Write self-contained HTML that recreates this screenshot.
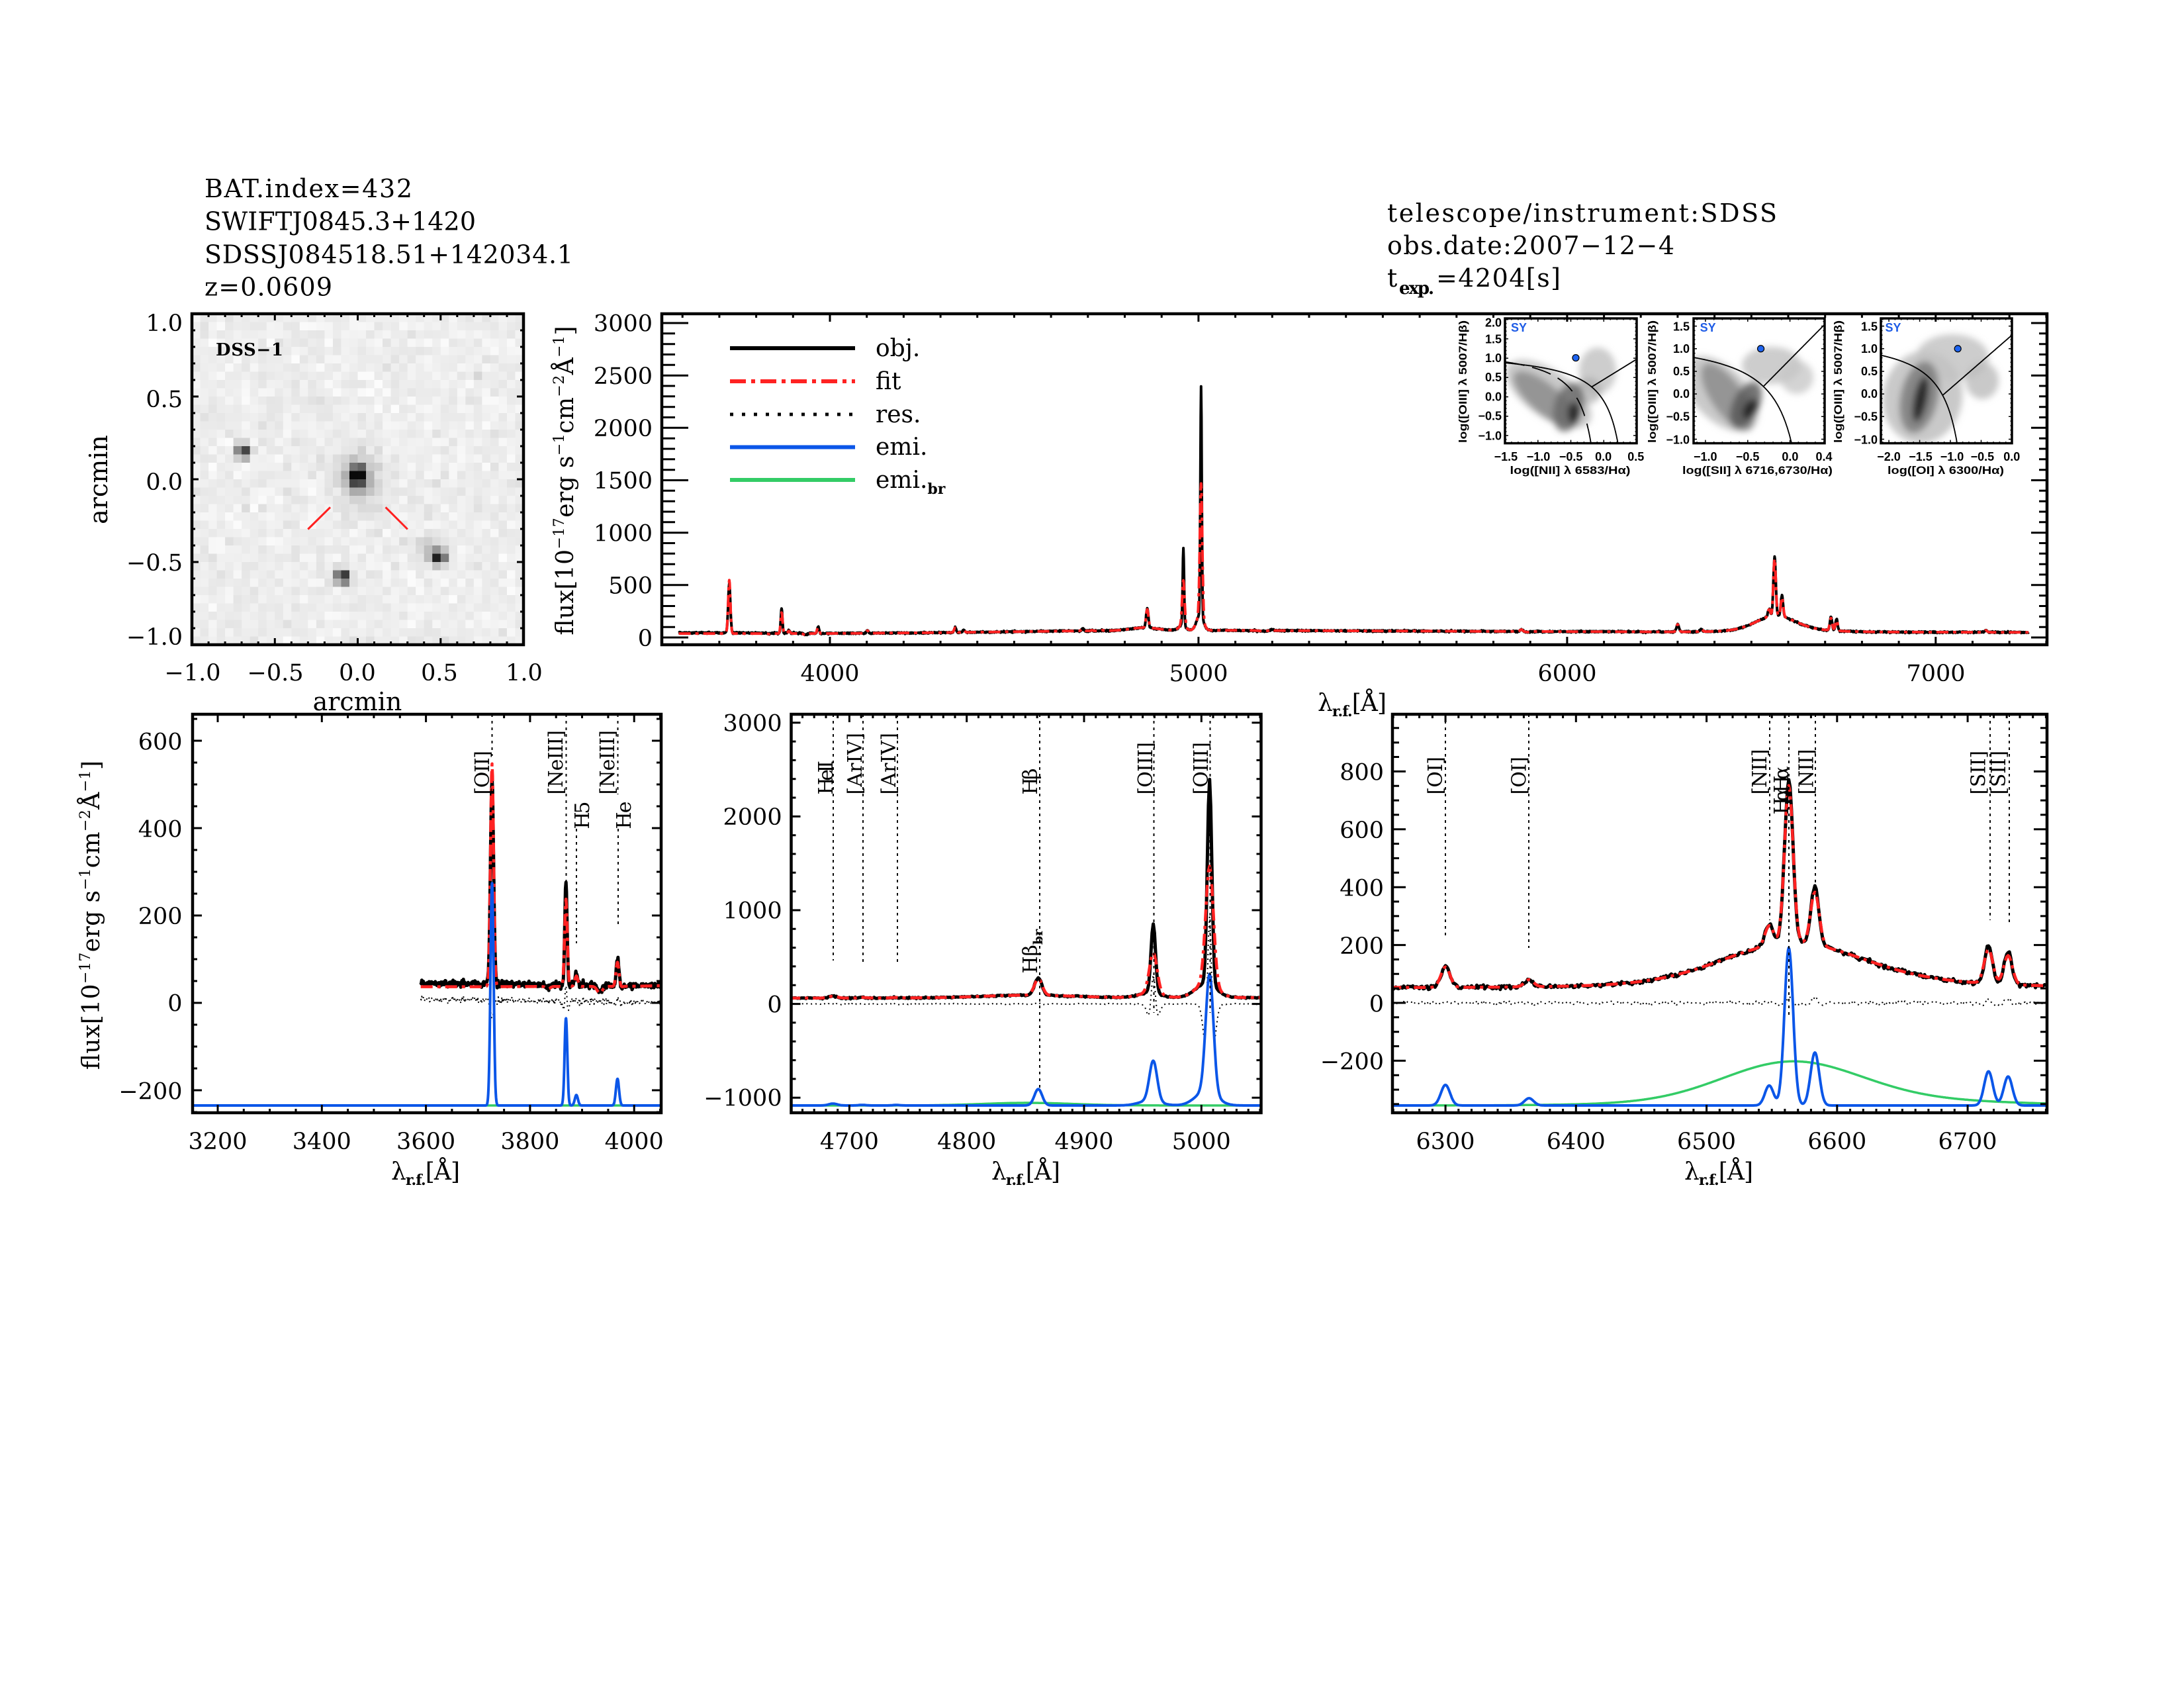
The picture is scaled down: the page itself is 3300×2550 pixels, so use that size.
<!DOCTYPE html>
<html><head><meta charset="utf-8"><title>BAT 432 spectrum</title>
<style>
html,body{margin:0;padding:0;background:#fff;width:3300px;height:2550px;overflow:hidden}
svg{display:block}
.t{font-family:"DejaVu Serif","Liberation Serif",serif;fill:#000}
.b{font-family:"Liberation Sans","DejaVu Sans",sans-serif;font-weight:bold;fill:#000}
</style></head><body>
<svg id="s" xmlns="http://www.w3.org/2000/svg" width="3300" height="2550" viewBox="0 0 3300 2550">
<defs>
<clipPath id="cM"><rect x="1000" y="474" width="2093" height="500"/></clipPath>
<clipPath id="cL"><rect x="291" y="1079" width="708" height="602"/></clipPath>
<clipPath id="cC"><rect x="1195.5" y="1079" width="710" height="602"/></clipPath>
<clipPath id="cR"><rect x="2104" y="1079" width="989" height="602"/></clipPath>
<clipPath id="cD"><rect x="290" y="474" width="501" height="500"/></clipPath>
<clipPath id="cI1"><rect x="2274" y="481" width="199" height="188.6"/></clipPath>
<clipPath id="cI2"><rect x="2559" y="481" width="198" height="188.6"/></clipPath>
<clipPath id="cI3"><rect x="2842" y="481" width="198" height="188.6"/></clipPath>
<filter id="bl" x="-50%" y="-50%" width="200%" height="200%"><feGaussianBlur stdDeviation="5"/></filter>
</defs>
<rect width="3300" height="2550" fill="#fff"/>
<g id="gD" clip-path="url(#cD)"></g>
<g id="gB"></g>
<g id="gS"></g>
<g id="gA"></g>

<!-- header left -->
<g class="t" font-size="38">
<text x="309" y="298" textLength="314">BAT.index=432</text>
<text x="309" y="347.5" textLength="410">SWIFTJ0845.3+1420</text>
<text x="309" y="397.5" textLength="557">SDSSJ084518.51+142034.1</text>
<text x="309" y="446.5" textLength="193">z=0.0609</text>
<!-- header right -->
<text x="2096" y="335" textLength="589">telescope/instrument:SDSS</text>
<text x="2096" y="384" textLength="434">obs.date:2007−12−4</text>
<text x="2096" y="433">t</text>
<text x="2114" y="444" font-size="26" font-weight="bold" textLength="53">exp.</text>
<text x="2170" y="433" textLength="188">=4204[s]</text>
</g>

<!-- DSS panel text -->
<text class="t" x="326" y="537" font-size="26" font-weight="bold" textLength="102">DSS−1</text>
<g class="t" font-size="35" text-anchor="end">
<text x="276" y="500">1.0</text>
<text x="276" y="615">0.5</text>
<text x="276" y="740">0.0</text>
<text x="276" y="862">−0.5</text>
<text x="276" y="974">−1.0</text>
</g>
<g class="t" font-size="35" text-anchor="middle">
<text x="291" y="1028">−1.0</text>
<text x="416" y="1028">−0.5</text>
<text x="540" y="1028">0.0</text>
<text x="664" y="1028">0.5</text>
<text x="792" y="1028">1.0</text>
<text x="540" y="1073" font-size="38">arcmin</text>
<text transform="translate(162,724.5) rotate(-90)" font-size="38">arcmin</text>
</g>

<!-- main panel text -->
<g class="t" font-size="35" text-anchor="end">
<text x="986" y="976">0</text>
<text x="986" y="896.5">500</text>
<text x="986" y="817.4">1000</text>
<text x="986" y="738.2">1500</text>
<text x="986" y="659">2000</text>
<text x="986" y="580">2500</text>
<text x="986" y="500.7">3000</text>
</g>
<g class="t" font-size="35" text-anchor="middle">
<text x="1254" y="1029">4000</text>
<text x="1811" y="1029">5000</text>
<text x="2368" y="1029">6000</text>
<text x="2925" y="1029">7000</text>
</g>
<text class="t" x="1991" y="1074" font-size="36" textLength="104">λ<tspan font-size="22" font-weight="bold" dy="8">r.f.</tspan><tspan dy="-8">[Å]</tspan></text>
<text class="t" transform="translate(866,959.5) rotate(-90)" font-size="36" textLength="467">flux[10<tspan font-size="22" dy="-14">−17</tspan><tspan dy="14">erg s</tspan><tspan font-size="22" dy="-14">−1</tspan><tspan dy="14">cm</tspan><tspan font-size="22" dy="-14">−2</tspan><tspan dy="14">Å</tspan><tspan font-size="22" dy="-14">−1</tspan><tspan dy="14">]</tspan></text>

<!-- legend -->
<line x1="1103" y1="526" x2="1292" y2="526" stroke="#000" stroke-width="6"/>
<line x1="1103" y1="576" x2="1292" y2="576" stroke="#ff2222" stroke-width="6" stroke-dasharray="24 8 6 8"/>
<line x1="1103" y1="626" x2="1292" y2="626" stroke="#000" stroke-width="5" stroke-dasharray="5 13"/>
<line x1="1103" y1="675.5" x2="1292" y2="675.5" stroke="#0b56e8" stroke-width="6"/>
<line x1="1103" y1="725" x2="1292" y2="725" stroke="#33cc66" stroke-width="6"/>
<g class="t" font-size="36">
<text x="1323" y="538">obj.</text>
<text x="1323" y="588">fit</text>
<text x="1323" y="638">res.</text>
<text x="1323" y="687">emi.</text>
<text x="1323" y="737">emi.<tspan font-size="22" font-weight="bold" dy="9">br</tspan></text>
</g>

<!-- bottom panels text -->
<g class="t" font-size="35" text-anchor="middle">
<text x="329" y="1736">3200</text>
<text x="486.3" y="1736">3400</text>
<text x="643.6" y="1736">3600</text>
<text x="800.9" y="1736">3800</text>
<text x="958.2" y="1736">4000</text>
<text x="1283.4" y="1736">4700</text>
<text x="1460.7" y="1736">4800</text>
<text x="1638" y="1736">4900</text>
<text x="1815.3" y="1736">5000</text>
<text x="2184" y="1736">6300</text>
<text x="2381.3" y="1736">6400</text>
<text x="2578.5" y="1736">6500</text>
<text x="2775.8" y="1736">6600</text>
<text x="2973" y="1736">6700</text>
</g>
<g class="t" font-size="35" text-anchor="end">
<text x="275.5" y="1132.7">600</text>
<text x="275.5" y="1264.5">400</text>
<text x="275.5" y="1396">200</text>
<text x="275.5" y="1527.7">0</text>
<text x="275.5" y="1660.7">−200</text>
<text x="1181.6" y="1104.5">3000</text>
<text x="1181.6" y="1246">2000</text>
<text x="1181.6" y="1387.6">1000</text>
<text x="1181.6" y="1529.3">0</text>
<text x="1181.6" y="1670.7">−1000</text>
<text x="2091" y="1178.7">800</text>
<text x="2091" y="1266">600</text>
<text x="2091" y="1353.5">400</text>
<text x="2091" y="1440.9">200</text>
<text x="2091" y="1528.3">0</text>
<text x="2091" y="1615.7">−200</text>
</g>
<text class="t" x="591" y="1782" font-size="36" textLength="104">λ<tspan font-size="22" font-weight="bold" dy="8">r.f.</tspan><tspan dy="-8">[Å]</tspan></text>
<text class="t" x="1498" y="1782" font-size="36" textLength="104">λ<tspan font-size="22" font-weight="bold" dy="8">r.f.</tspan><tspan dy="-8">[Å]</tspan></text>
<text class="t" x="2545" y="1782" font-size="36" textLength="104">λ<tspan font-size="22" font-weight="bold" dy="8">r.f.</tspan><tspan dy="-8">[Å]</tspan></text>
<text class="t" transform="translate(150,1616) rotate(-90)" font-size="36" textLength="467">flux[10<tspan font-size="22" dy="-14">−17</tspan><tspan dy="14">erg s</tspan><tspan font-size="22" dy="-14">−1</tspan><tspan dy="14">cm</tspan><tspan font-size="22" dy="-14">−2</tspan><tspan dy="14">Å</tspan><tspan font-size="22" dy="-14">−1</tspan><tspan dy="14">]</tspan></text>

<!-- line labels -->
<g class="t" font-size="30">
<text transform="translate(739,1200.5) rotate(-90)" textLength="66.5">[OII]</text>
<text transform="translate(850,1200.5) rotate(-90)" textLength="97.5">[NeIII]</text>
<text transform="translate(890,1252.5) rotate(-90)" textLength="42">H5</text>
<text transform="translate(928,1200.5) rotate(-90)" textLength="97.5">[NeIII]</text>
<text transform="translate(953,1252.5) rotate(-90)" textLength="42">He</text>

<text transform="translate(1258,1200.5) rotate(-90)" textLength="51.5">HeII</text>
<text transform="translate(1302,1200.5) rotate(-90)" textLength="93.5">[ArIV]</text>
<text transform="translate(1353,1200.5) rotate(-90)" textLength="93.5">[ArIV]</text>
<text transform="translate(1567,1200.5) rotate(-90)" textLength="40">Hβ</text>
<text transform="translate(1567,1470.6) rotate(-90)">Hβ<tspan font-size="19" font-weight="bold" dy="8">br</tspan></text>
<text transform="translate(1741,1200.5) rotate(-90)" textLength="79.5">[OIII]</text>
<text transform="translate(1825,1200.5) rotate(-90)" textLength="79.5">[OIII]</text>

<text transform="translate(2179,1200.5) rotate(-90)" textLength="57.5">[OI]</text>
<text transform="translate(2305.5,1200.5) rotate(-90)" textLength="57.5">[OI]</text>
<text transform="translate(2669,1200.5) rotate(-90)" textLength="69">[NII]</text>
<text transform="translate(2702,1230.5) rotate(-90)" textLength="40">Hα</text>
<text transform="translate(2702,1197.6) rotate(-90)" textLength="40">Hα</text>
<text transform="translate(2739.4,1200.5) rotate(-90)" textLength="69">[NII]</text>
<text transform="translate(2999.6,1200.5) rotate(-90)" textLength="66.6">[SII]</text>
<text transform="translate(3030,1200.5) rotate(-90)" textLength="66.6">[SII]</text>
</g>

<!-- BPT inset text -->
<g class="b" font-size="18" text-anchor="end">
<text x="2269" y="493.5">2.0</text>
<text x="2269" y="518.5">1.5</text>
<text x="2269" y="547">1.0</text>
<text x="2269" y="576">0.5</text>
<text x="2269" y="605.5">0.0</text>
<text x="2269" y="634.6">−0.5</text>
<text x="2269" y="664.5">−1.0</text>
<text x="2553" y="499.3">1.5</text>
<text x="2553" y="532.8">1.0</text>
<text x="2553" y="567">0.5</text>
<text x="2553" y="601">0.0</text>
<text x="2553" y="635.4">−0.5</text>
<text x="2553" y="670.3">−1.0</text>
<text x="2837" y="499.3">1.5</text>
<text x="2837" y="532.8">1.0</text>
<text x="2837" y="567">0.5</text>
<text x="2837" y="601">0.0</text>
<text x="2837" y="635.4">−0.5</text>
<text x="2837" y="670.3">−1.0</text>
</g>
<g class="b" font-size="18" text-anchor="middle">
<text x="2275.4" y="696">−1.5</text>
<text x="2324.5" y="696">−1.0</text>
<text x="2373.6" y="696">−0.5</text>
<text x="2422.7" y="696">0.0</text>
<text x="2471.8" y="696">0.5</text>
<text x="2576.8" y="696">−1.0</text>
<text x="2640.6" y="696">−0.5</text>
<text x="2704.9" y="696">0.0</text>
<text x="2756" y="696">0.4</text>
<text x="2854" y="696">−2.0</text>
<text x="2902" y="696">−1.5</text>
<text x="2949.5" y="696">−1.0</text>
<text x="2995.4" y="696">−0.5</text>
<text x="3039.8" y="696">0.0</text>
</g>
<g class="b" font-size="17">
<text x="2281.5" y="716" textLength="182" lengthAdjust="spacingAndGlyphs">log([NII] λ 6583/Hα)</text>
<text x="2542" y="716" textLength="227" lengthAdjust="spacingAndGlyphs">log([SII] λ 6716,6730/Hα)</text>
<text x="2852" y="716" textLength="176" lengthAdjust="spacingAndGlyphs">log([OI] λ 6300/Hα)</text>
<text transform="translate(2216,669) rotate(-90)" textLength="185" lengthAdjust="spacingAndGlyphs">log([OIII] λ 5007/Hβ)</text>
<text transform="translate(2502,669) rotate(-90)" textLength="185" lengthAdjust="spacingAndGlyphs">log([OIII] λ 5007/Hβ)</text>
<text transform="translate(2783,669) rotate(-90)" textLength="185" lengthAdjust="spacingAndGlyphs">log([OIII] λ 5007/Hβ)</text>
</g>
<g class="b" font-size="18">
<text x="2283" y="501" style="fill:#1e5ce6">SY</text>
<text x="2568.6" y="501" style="fill:#1e5ce6">SY</text>
<text x="2848.5" y="501" style="fill:#1e5ce6">SY</text>
</g>
</svg>
<script>
(function(){
var NS='http://www.w3.org/2000/svg';
function el(tag,a,p){var e=document.createElementNS(NS,tag);for(var k in a)e.setAttribute(k,a[k]);p.appendChild(e);return e;}
var gD=document.getElementById('gD'),gB=document.getElementById('gB'),gS=document.getElementById('gS'),gA=document.getElementById('gA');
function P(x0,x1,y0,y1,xa,xb,ya,yb){return {x0:x0,x1:x1,y0:y0,y1:y1,xa:xa,xb:xb,ya:ya,yb:yb,
 X:function(v){return x0+(v-xa)/(xb-xa)*(x1-x0);},Y:function(v){return y1-(v-ya)/(yb-ya)*(y1-y0);}};}
var seed=987654321;
function rnd(){seed=(Math.imul(seed,1664525)+1013904223)>>>0;return seed/4294967296;}
function nrm(){var u=rnd();if(u<1e-9)u=1e-9;return Math.sqrt(-2*Math.log(u))*Math.cos(6.283185307*rnd());}
function G(l,c,a,s){var d=(l-c)/s;return d*d>80?0:a*Math.exp(-0.5*d*d);}

/* ---------- DSS image ---------- */
var stars=[[0.0,0.02,235,0.035,0.05],[0.0,0.0,45,0.10,0.12],[-0.69,0.17,200,0.03,0.03],[0.49,-0.47,215,0.028,0.028],[0.44,-0.42,45,0.06,0.05],[-0.09,-0.59,230,0.03,0.03]];
var N=40,cw=501/N,ch=500/N;
for(var j=0;j<N;j++)for(var i=0;i<N;i++){
 var x=-1+(i+0.5)*0.05,y=1-(j+0.5)*0.05;
 var v=238+nrm()*6;
 for(var q=0;q<stars.length;q++){var s=stars[q];var dx=(x-s[0])/s[3],dy=(y-s[1])/s[4];v-=s[2]*Math.exp(-0.5*(dx*dx+dy*dy));}
 v=Math.max(10,Math.min(252,Math.round(v)));
 el('rect',{x:(290+i*cw).toFixed(2),y:(474+j*ch).toFixed(2),width:(cw+0.6).toFixed(2),height:(ch+0.6).toFixed(2),fill:'rgb('+v+','+v+','+v+')'},gD);
}
el('line',{x1:465.3,y1:799.5,x2:499,y2:766.3,stroke:'#ff2020','stroke-width':3},gA);
el('line',{x1:582.6,y1:766.3,x2:615.8,y2:799.5,stroke:'#ff2020','stroke-width':3},gA);

/* ---------- spectrum model ---------- */
var CP=[[3500,37],[3700,37],[4000,38],[4300,46],[4650,62],[4900,66],[5050,68],[5500,62],[6000,56],[6300,53],[6450,55],[6760,52],[7400,48]];
function cont(l){for(var i=0;i<CP.length-1;i++){if(l<=CP[i+1][0]){var t=(l-CP[i][0])/(CP[i+1][0]-CP[i][0]);return CP[i][1]+t*(CP[i+1][1]-CP[i][1]);}}return 48;}
function absb(l){return -G(l,3934,15,5)-G(l,3969,6,5)-G(l,3835,5,4)-G(l,5175,6,10)-G(l,5893,6,6);}
var NL=[[3727,510,470,3.0],[3869,200,235,2.6],[3889,24,29,3],[3968,61,70,3],[4102,25,28,3],[4340,45,50,3],[4363,20,22,3],[4686,20,22,3.5],[4711,6,6,3],[4740,5,5,3],[4861,175,185,3.3],[4959,430,735,3.3],[5007,1260,2185,3.3],[5200,8,8,3],[5876,18,18,3.5],[6300,71,75,3.5],[6364,25,24,3.5],[6548,69,72,3.3],[6563,545,560,3.3],[6583,183,200,3.3],[6716,118,135,3.3],[6731,100,115,3.3],[7136,18,18,3.5]];
var WG=[[4956,50,9],[5004,150,9]];
var BR=[[4852,28,38],[6565,129,52],[6600,25,100]];
function nfit(l){var s=0,i;for(i=0;i<NL.length;i++)s+=G(l,NL[i][0],NL[i][1],NL[i][3]);for(i=0;i<WG.length;i++)s+=G(l,WG[i][0],WG[i][1],WG[i][2]);return s;}
function nobj(l){var s=0,i;for(i=0;i<NL.length;i++){var n=NL[i];var so=Math.max(1.7,n[3]*Math.min(1,n[1]/n[2]));s+=G(l,n[0],n[2],so);}for(i=0;i<WG.length;i++)s+=G(l,WG[i][0],WG[i][1],WG[i][2]);return s;}
function brd(l){var s=0;for(var i=0;i<BR.length;i++)s+=G(l,BR[i][0],BR[i][1],BR[i][2]);return s;}
var L=[],OBJ=[],FIT=[],RES=[];
for(var l=3590;l<=7252;l+=1){
 var c=cont(l)+absb(l)+brd(l);
 var f=c+nfit(l);
 var o=c+nobj(l)+nrm()*3.5+(l<4100?8*(4100-l)/510:0);
 L.push(l);FIT.push(f);OBJ.push(o);RES.push(o-f);
}
function path(p,xs,ys){var d='',first=true;for(var i=0;i<xs.length;i++){var x=xs[i];if(x<p.xa-3||x>p.xb+3)continue;d+=(first?'M':'L')+p.X(x).toFixed(1)+' '+p.Y(ys[i]).toFixed(1);first=false;}return d;}
function draw(clip,d,a){a.d=d;a.fill='none';a['clip-path']='url(#'+clip+')';a['stroke-linejoin']='round';el('path',a,gS);}

var PM=P(1000,3093,474,974,3544,7302,-69.5,3088.4);
var PL=P(291,999,1079,1681,3151.7,4051.9,-251.5,660.6);
var PC=P(1195.5,1905.5,1079,1681,4650.4,5050.9,-1161,3090);
var PR=P(2104,3093,1079,1681,6259.4,6760.8,-379.9,997.7);

draw('cM',path(PM,L,OBJ),{stroke:'#000','stroke-width':4});
draw('cM',path(PM,L,FIT),{stroke:'#ff2222','stroke-width':4,'stroke-dasharray':'18 7 5 7'});

var BP=[[PL,'cL'],[PC,'cC'],[PR,'cR']];
for(var k=0;k<BP.length;k++){
 var p=BP[k][0],cl=BP[k][1];
 var base=p.ya+(p.y1-1670)/(p.y1-p.y0)*(p.yb-p.ya);
 draw(cl,path(p,L,RES),{stroke:'#000','stroke-width':2,'stroke-dasharray':'2 5'});
 draw(cl,path(p,L,OBJ),{stroke:'#000','stroke-width':5});
 draw(cl,path(p,L,FIT),{stroke:'#ff2222','stroke-width':4.5,'stroke-dasharray':'18 7 5 7'});
 var lx=[],gy=[],by=[];
 for(var w=p.xa;w<=p.xb+0.5;w+=0.5){lx.push(w);gy.push(base+brd(w));by.push(base+nfit(w));}
 draw(cl,path(p,lx,gy),{stroke:'#33cc66','stroke-width':3.5});
 draw(cl,path(p,lx,by),{stroke:'#0b56e8','stroke-width':4});
}
/* vertical dotted line markers */
var VL=[[743.5,1079,1142],[855.5,1079,1337],[871,1252,1425],[933.5,1079,1200],[934,1252,1402],
[1259,1079,1451],[1304,1079,1455],[1356,1079,1455],[1571,1079,1643],[1743.5,1079,1530],[1828.5,1079,1530],
[2184,1079,1417],[2310,1079,1432],[2674,1079,1390],[2703,1079,1535],[2743,1079,1337],[3007,1079,1390],[3036,1079,1398]];
for(var v2=0;v2<VL.length;v2++){el('line',{x1:VL[v2][0],y1:VL[v2][1],x2:VL[v2][0],y2:VL[v2][2],stroke:'#000','stroke-width':2,'stroke-dasharray':'4 6'},gA);}

/* ---------- axes ---------- */
function ticks(p,xmaj,xmin,ymaj,ymin,xl,yl,ylr,sw,fw){
 var d='',kk,v,r,maj,len;
 var nx0=Math.ceil(p.xa/xmin-1e-6),nx1=Math.floor(p.xb/xmin+1e-6);
 for(kk=nx0;kk<=nx1;kk++){v=kk*xmin;r=v/xmaj;maj=Math.abs(r-Math.round(r))<1e-6;len=maj?xl:xl/2;var X=p.X(v).toFixed(1);
  d+='M'+X+' '+p.y1+'V'+(p.y1-len).toFixed(1)+'M'+X+' '+p.y0+'V'+(p.y0+len).toFixed(1);}
 var ny0=Math.ceil(p.ya/ymin-1e-6),ny1=Math.floor(p.yb/ymin+1e-6);
 for(kk=ny0;kk<=ny1;kk++){v=kk*ymin;r=v/ymaj;maj=Math.abs(r-Math.round(r))<1e-6;len=maj?yl:yl/2;var lr=maj?ylr:ylr/2;var Y=p.Y(v).toFixed(1);
  d+='M'+p.x0+' '+Y+'H'+(p.x0+len).toFixed(1)+'M'+p.x1+' '+Y+'H'+(p.x1-lr).toFixed(1);}
 el('path',{d:d,stroke:'#000','stroke-width':sw,fill:'none'},gA);
 el('rect',{x:p.x0,y:p.y0,width:p.x1-p.x0,height:p.y1-p.y0,fill:'none',stroke:'#000','stroke-width':fw},gA);
}
var D=P(290,791,474,974,-1,1,-1,1);
ticks(PM,1000,100,500,100,12,40,24,3,4.5);
ticks(PL,200,50,200,50,12,14,14,3,4.5);
ticks(PC,100,10,1000,200,12,14,14,3,4.5);
ticks(PR,100,10,200,50,12,20,20,3,4.5);
ticks(D,0.5,0.1,0.5,0.1,10,10,10,3,4.5);

/* ---------- BPT insets ---------- */
var I1=P(2274,2473,481,669.6,-1.5,0.5,-1.2,2.03);
var I2=P(2559,2757,481,669.6,-1.14,0.41,-1.09,1.67);
var I3=P(2842,3040,481,669.6,-2.13,0.0,-1.09,1.67);
function ig(clip){var g=el('g',{'clip-path':'url(#'+clip+')'},gB);var h=el('g',{filter:'url(#bl)'},g);return [g,h];}
function cloud(g,cx,cy,rx,ry,rot,fill,op){el('ellipse',{cx:cx,cy:cy,rx:rx,ry:ry,transform:'rotate('+rot+' '+cx+' '+cy+')',fill:fill,'fill-opacity':op},g);}
function curve(p,f,xa,xb,g,dash){var d='',first=true;for(var i=0;i<=300;i++){var x=xa+(xb-xa)*i/300;var y=f(x);if(!isFinite(y))continue;var Y=Math.max(p.y0-60,Math.min(p.y1+60,p.Y(y)));d+=(first?'M':'L')+p.X(x).toFixed(1)+' '+Y.toFixed(1);first=false;}
 var a={d:d,fill:'none',stroke:'#000','stroke-width':1.8};if(dash)a['stroke-dasharray']=dash;el('path',a,g);}
var a1=ig('cI1');
cloud(a1[1],2340,595,75,35,35,'#bbb',0.8);
cloud(a1[1],2414,560,28,35,0,'#c4c4c4',0.85);
cloud(a1[1],2400,590,20,20,0,'#aaa',0.7);
cloud(a1[1],2335,603,60,22,40,'#888',0.8);
cloud(a1[1],2370,615,22,38,15,'#666',0.8);
cloud(a1[1],2378,624,9,16,0,'#222',0.9);
curve(I1,function(x){return 0.61/(x-0.47)+1.19;},-1.5,0.46,a1[0]);
curve(I1,function(x){return 0.61/(x-0.05)+1.3;},-1.5,0.045,a1[0],'30 12');
curve(I1,function(x){return 1.05*x+0.45;},-0.18,0.5,a1[0]);
el('circle',{cx:I1.X(-0.425),cy:I1.Y(1.01),r:5,fill:'#1e64f0',stroke:'#000','stroke-width':1.2},a1[0]);
var a2=ig('cI2');
cloud(a2[1],2600,595,70,40,45,'#bbb',0.8);
cloud(a2[1],2677,552,45,28,0,'#c4c4c4',0.85);
cloud(a2[1],2715,570,25,25,0,'#c8c8c8',0.8);
cloud(a2[1],2610,600,60,24,55,'#888',0.8);
cloud(a2[1],2638,612,20,38,25,'#555',0.8);
cloud(a2[1],2644,618,9,16,30,'#222',0.9);
curve(I2,function(x){return 0.72/(x-0.32)+1.30;},-1.14,0.315,a2[0]);
curve(I2,function(x){return 1.89*x+0.76;},-0.31,0.41,a2[0]);
el('circle',{cx:I2.X(-0.345),cy:I2.Y(1.0),r:5,fill:'#1e64f0',stroke:'#000','stroke-width':1.2},a2[0]);
var a3=ig('cI3');
cloud(a3[1],2905,600,60,70,10,'#bbb',0.8);
cloud(a3[1],2950,540,55,35,0,'#c4c4c4',0.85);
cloud(a3[1],2995,575,25,28,0,'#bbb',0.8);
cloud(a3[1],2900,600,28,55,12,'#777',0.8);
cloud(a3[1],2902,603,10,35,12,'#222',0.9);
curve(I3,function(x){return 0.73/(x+0.59)+1.33;},-2.13,-0.595,a3[0]);
curve(I3,function(x){return 1.18*x+1.30;},-1.13,0.0,a3[0]);
el('circle',{cx:I3.X(-0.88),cy:I3.Y(1.0),r:5,fill:'#1e64f0',stroke:'#000','stroke-width':1.2},a3[0]);
ticks(I1,0.5,0.1,0.5,0.1,5,5,5,1.5,3.5);
ticks(I2,0.5,0.1,0.5,0.1,5,5,5,1.5,3.5);
ticks(I3,0.5,0.1,0.5,0.1,5,5,5,1.5,3.5);
})();
</script>
</body></html>
